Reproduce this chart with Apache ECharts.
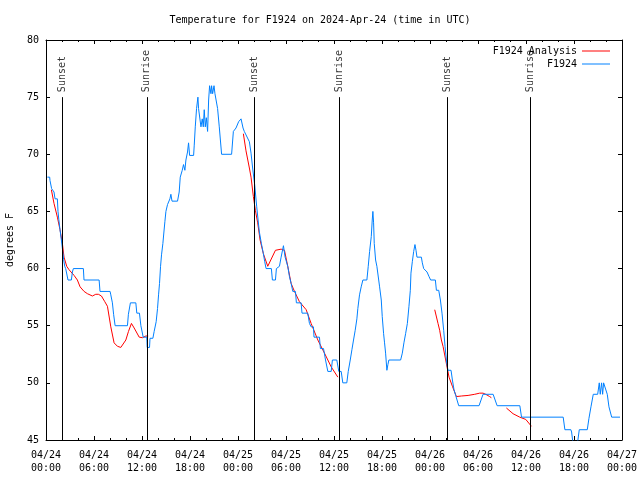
<!DOCTYPE html>
<html>
<head>
<meta charset="utf-8">
<script src="https://cdn.jsdelivr.net/npm/echarts@6/dist/echarts.min.js"></script>
<style>html,body{margin:0;padding:0;background:#fff}#c{width:640px;height:480px}</style>
</head>
<body>
<div id="c"></div>
<script>
// x values are hours since 2024-04-24 00:00 UTC
var xTickLabels = ["04/24\n00:00","04/24\n06:00","04/24\n12:00","04/24\n18:00","04/25\n00:00","04/25\n06:00","04/25\n12:00","04/25\n18:00","04/26\n00:00","04/26\n06:00","04/26\n12:00","04/26\n18:00","04/27\n00:00"];
var sunHours  = [2.05, 12.6, 26.05, 36.65, 50.15, 60.55];
var sunLabels = ["Sunset","Sunrise","Sunset","Sunrise","Sunset","Sunrise"];

var observed = [[0.17,68],[0.46,68],[0.5,67.7],[0.67,67.7],[0.7,67],[0.92,67],[1.0,66.7],[1.1,66.7],[1.13,66.1],[1.42,66.1],[1.5,65],[1.6,64.3],[1.75,63.4],[1.92,62.5],[2.09,61.5],[2.2,60.8],[2.34,60.2],[2.46,60],[2.67,60],[2.75,59],[3.17,59],[3.3,59.7],[3.42,60],[4.67,60],[4.75,59],[6.64,59],[6.75,58],[8.01,58],[8.1,57.7],[8.3,57],[8.45,56],[8.64,55],[10.18,55],[10.3,56],[10.55,57],[11.23,57],[11.35,56.1],[11.68,56.1],[11.86,55],[12.15,54],[12.6,54],[12.65,53.1],[12.94,53.1],[13.0,53.9],[13.36,53.9],[13.52,54.5],[13.77,55.35],[13.94,56.5],[14.07,57.7],[14.19,58.7],[14.32,60.2],[14.44,61.2],[14.61,62.2],[14.74,63.2],[14.86,64.1],[14.99,65],[15.19,65.6],[15.49,66.1],[15.61,66.5],[15.75,65.9],[16.44,65.9],[16.65,66.7],[16.78,68],[17.03,68.6],[17.19,69.1],[17.36,68.6],[17.49,69.5],[17.69,70.2],[17.82,71],[17.95,69.9],[18.45,69.9],[18.53,70.8],[18.66,72.4],[18.82,74],[18.99,75],[19.07,74],[19.37,72.4],[19.53,73.1],[19.66,72.4],[19.78,73.9],[19.91,72.4],[20.04,73.2],[20.2,72],[20.33,74.75],[20.45,76],[20.62,75.3],[20.7,76],[20.83,75.3],[21.0,76],[21.12,75.3],[21.45,74],[21.66,72.4],[21.95,70],[23.2,70],[23.42,72],[23.75,72.3],[24.08,72.85],[24.38,73.1],[24.63,72.3],[24.79,72],[25.04,72],[25.42,71.1],[25.63,70.1],[25.83,68.8],[26.09,67.3],[26.34,65.4],[26.51,64.25],[26.67,63.2],[26.92,62.2],[27.17,61.3],[27.34,60.6],[27.51,60],[28.17,60],[28.3,59],[28.68,59],[28.8,60],[28.93,60],[29.18,60.2],[29.39,61],[29.68,62],[29.89,61],[30.22,60.2],[30.43,59.3],[30.64,58.7],[30.85,58],[31.18,58],[31.3,57],[31.89,57],[32.0,56.1],[32.72,56.1],[32.93,55.2],[33.14,54.9],[33.43,54.9],[33.5,54],[34.18,54],[34.3,53],[34.69,53],[34.94,52],[35.23,51],[35.65,51],[35.8,52],[36.35,52],[36.6,51],[36.9,51],[37.1,50],[37.6,50],[37.78,51],[38.03,52],[38.24,52.9],[38.44,53.75],[38.65,54.6],[38.86,55.6],[38.98,56.5],[39.19,57.7],[39.4,58.4],[39.61,59],[40.11,59],[40.28,60.2],[40.45,61.5],[40.66,62.8],[40.78,64.25],[40.86,65],[40.95,64],[41.03,62.2],[41.2,60.75],[41.36,60.2],[41.7,58.4],[41.91,57.25],[42.03,55.8],[42.2,54.3],[42.32,53.5],[42.45,52.6],[42.61,51.1],[42.74,51.6],[42.86,52],[44.33,52],[44.54,52.6],[44.74,53.5],[44.95,54.3],[45.17,55.2],[45.37,56.7],[45.54,58.1],[45.62,59.6],[45.79,60.6],[45.96,61.5],[46.12,62.1],[46.25,61.6],[46.37,61],[46.92,61],[47.04,60.5],[47.21,60],[47.46,60],[47.63,59.7],[47.88,59.3],[48.08,59],[48.67,59],[48.8,58.1],[49.09,58.1],[49.3,57.25],[49.5,56.1],[49.71,54.6],[49.88,53.2],[50.09,51.7],[50.25,51.1],[50.63,51.1],[50.8,50.25],[51.0,49.4],[51.21,48.9],[51.38,48.9],[51.59,48],[54.13,48],[54.63,49],[55.89,49],[56.39,48],[59.23,48],[59.44,47],[64.65,47],[64.86,45.9],[65.61,45.9],[65.7,45.7],[65.91,44.5],[66.2,44.2],[66.45,44.8],[66.66,45.9],[67.66,45.9],[67.87,46.9],[68.12,47.9],[68.41,49],[68.96,49],[69.16,50],[69.28,49],[69.45,50],[69.58,49],[69.7,50],[69.91,50],[70.16,49],[70.37,47.9],[70.71,47],[71.75,47]];

var analysisA = [[0.67,66.9],[1.0,65.7],[1.42,64.5],[1.75,63.4],[2.05,62.2],[2.25,61.0],[2.59,60.2],[2.88,59.9],[3.51,59.4],[3.92,59.0],[4.26,58.4],[4.76,58.0],[5.18,57.8],[5.8,57.6],[6.22,57.75],[6.55,57.75],[6.93,57.6],[7.35,57.1],[7.68,56.7],[8.1,54.9],[8.51,53.5],[8.93,53.2],[9.35,53.1],[9.6,53.0],[9.98,53.75],[10.31,54.5],[10.68,55.2],[11.02,54.8],[11.65,54.0],[12.06,53.95],[12.48,54.1],[12.77,54.1]];
var analysisB = [[24.67,71.8],[25.0,70.3],[25.42,68.8],[25.63,68.0],[25.92,66.3],[26.17,65.1],[26.46,64.0],[26.76,62.5],[27.17,61.3],[27.72,60.2],[28.68,61.6],[29.39,61.7],[29.81,61.6],[30.22,60.2],[30.64,58.7],[31.06,58.0],[31.68,57.1],[32.52,56.4],[33.14,55.2],[33.98,53.75],[34.81,52.6],[35.65,51.4],[36.48,50.5]];
var analysisC = [[48.59,56.4],[49.0,55.2],[49.21,54.6],[49.42,53.75],[49.63,53.2],[49.96,52.0],[50.38,50.5],[50.8,49.7],[51.3,48.8],[51.92,48.85],[52.76,48.9],[53.59,49.0],[54.21,49.1],[54.63,49.1],[54.96,49.0],[55.46,48.8],[55.67,48.7]];
var analysisD = [[57.55,47.8],[58.38,47.3],[59.22,47.0],[59.97,46.8],[60.68,46.2]];

var FONT = 'DejaVu Sans Mono';
var RED = '#ff0000', BLUE = '#0080ff';

var chart = echarts.init(document.getElementById('c'), null, {renderer:'canvas'});

function redSeries(d){
  return {name:'F1924 Analysis', type:'line', data:d, symbol:'none', showSymbol:false,
    lineStyle:{color:RED, width:1}, itemStyle:{color:RED}, xAxisIndex:0, yAxisIndex:0, silent:true, z:3};
}

var sunData = sunHours.map(function(h,i){ return [h, 75, sunLabels[i]]; });

var option = {
  animation:false,
  backgroundColor:'#ffffff',
  title:{text:'Temperature for F1924 on 2024-Apr-24 (time in UTC)', left:'center', top:10,
    textStyle:{fontFamily:FONT, fontSize:10, fontWeight:'normal', color:'#000'}},
  legend:[
    {data:['F1924 Analysis'], right:30, top:46, align:'right', orient:'vertical', icon:'rect',
      itemWidth:28, itemHeight:1, padding:0, textStyle:{fontFamily:FONT, fontSize:10, color:'#000'}},
    {data:['F1924'], right:30, top:59, align:'right', orient:'vertical', icon:'rect',
      itemWidth:28, itemHeight:1, padding:0, textStyle:{fontFamily:FONT, fontSize:10, color:'#000'}}
  ],
  grid:{left:46, right:18, top:40, bottom:40, containLabel:false, outerBoundsMode:'none'},
  xAxis:[
    {type:'value', min:0, max:72, interval:6, position:'bottom',
      axisLine:{show:true, lineStyle:{color:'#000', width:1}},
      axisTick:{show:true, inside:true, length:4, lineStyle:{color:'#000'}},
      minorTick:{show:true, splitNumber:3, length:2, lineStyle:{color:'#000'}},
      splitLine:{show:false},
      axisLabel:{margin:9, fontFamily:FONT, fontSize:10, color:'#000', lineHeight:13,
        formatter:function(v){ return xTickLabels[Math.round(v/6)]; }}},
    {type:'value', min:0, max:72, interval:6, position:'top',
      axisLine:{show:true, onZero:false, lineStyle:{color:'#000', width:1}},
      axisTick:{show:true, inside:true, length:4, lineStyle:{color:'#000'}},
      minorTick:{show:true, splitNumber:3, length:2, lineStyle:{color:'#000'}},
      splitLine:{show:false}, axisLabel:{show:false}}
  ],
  yAxis:[
    {type:'value', min:45, max:80, interval:5, position:'left',
      name:'degrees F', nameLocation:'middle', nameGap:31, nameRotate:90,
      nameTextStyle:{fontFamily:FONT, fontSize:10, color:'#000'},
      axisLine:{show:true, lineStyle:{color:'#000', width:1}},
      axisTick:{show:true, inside:true, length:4, lineStyle:{color:'#000'}},
      splitLine:{show:false},
      axisLabel:{margin:7, fontFamily:FONT, fontSize:10, color:'#000'}},
    {type:'value', min:45, max:80, interval:5, position:'right',
      axisLine:{show:true, onZero:false, lineStyle:{color:'#000', width:1}},
      axisTick:{show:true, inside:true, length:4, lineStyle:{color:'#000'}},
      splitLine:{show:false}, axisLabel:{show:false}}
  ],
  series:[
    {name:'sun', type:'scatter', data:sunData, symbolSize:0, silent:true, z:2,
      label:{show:true, position:[0,-5], rotate:90, align:'left', verticalAlign:'middle',
        fontFamily:FONT, fontSize:10, color:'#000',
        formatter:function(p){ return p.data[2]; }},
      markLine:{silent:true, symbol:['none','none'], animation:false,
        lineStyle:{color:'#000', width:1, type:'solid'}, label:{show:false},
        data: sunHours.map(function(h){ return [{coord:[h,45]},{coord:[h,75]}]; })}},
    redSeries(analysisA),
    redSeries(analysisB),
    redSeries(analysisC),
    redSeries(analysisD),
    {name:'F1924', type:'line', data:observed, symbol:'none', showSymbol:false, silent:true, z:4,
      lineStyle:{color:BLUE, width:1}, itemStyle:{color:BLUE}}
  ]
};
chart.setOption(option);
</script>
</body>
</html>
